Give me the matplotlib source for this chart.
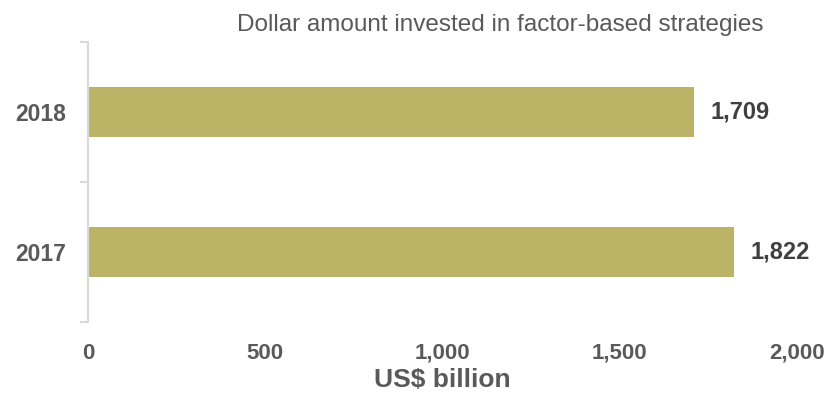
import matplotlib.pyplot as plt

years = ["2017", "2018"]
invested = [1822, 1709]
xticks = [0, 500, 1000, 1500, 2000]

plt.rcParams['font.family'] = ['Liberation Sans', 'DejaVu Sans']

fig = plt.figure(figsize=(8.29, 3.97), dpi=100)
ax = fig.add_axes([88 / 829, 75 / 397, 709 / 829, 280 / 397])

bars = ax.barh(range(len(years)), invested, height=0.36, color='#bbb365')

for b, v in zip(bars, invested):
    ax.annotate(f"{v:,}", (b.get_width(), b.get_y() + b.get_height() / 2),
                xytext=(12, 0), textcoords='offset points',
                va='center', ha='left', fontsize=17, fontweight='bold', color='#404040')

ax.set_xlim(0, 2000)
ax.set_ylim(-0.5, len(years) - 0.5)
ax.set_xticks(xticks)
ax.set_xticklabels([f"{t:,}" for t in xticks])
ax.set_yticks(range(len(years)))
ax.set_yticklabels(years)
ax.set_yticks([-0.5, 0.5, 1.5], minor=True)

for s in ['top', 'right', 'bottom']:
    ax.spines[s].set_visible(False)
ax.spines['left'].set_color('#d9d9d9')
ax.spines['left'].set_linewidth(1.5)

ax.tick_params(axis='x', length=0, pad=15, labelsize=16, labelcolor='#595959')
ax.tick_params(axis='y', which='major', length=0, pad=16, labelsize=16.5, labelcolor='#595959')
ax.tick_params(axis='y', which='minor', length=6, width=1.5, color='#d9d9d9')
for lbl in ax.get_xticklabels() + ax.get_yticklabels():
    lbl.set_fontweight('bold')

ax.set_xlabel("US$ billion", fontsize=19, fontweight='bold', color='#595959', labelpad=3)
ax.set_title("Dollar amount invested in factor-based strategies", x=0.581,
             fontsize=17.5, color='#595959', pad=8)

plt.savefig("out.png", dpi=100)
